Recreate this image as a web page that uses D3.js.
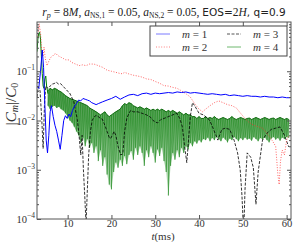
<!DOCTYPE html>
<html>
<head>
<meta charset="utf-8">
<script src="https://cdn.jsdelivr.net/npm/d3@7"></script>
<style>
  body { margin: 0; background: #fff; }
  svg { display: block; }
  text { font-family: "Liberation Serif", "DejaVu Serif", serif; }
</style>
</head>
<body>
<svg id="chart" width="293" height="242"></svg>
<script>
// m = 1 (blue solid)
let m1T = [3.0,3.4,3.8,4.2,4.5,4.8,5.1,5.4,5.7,6.0,6.3,6.7,7.1,7.5,7.9,8.3,8.7,9.1,9.5,9.9,10.3,10.7,11.1,11.5,12.0,12.5,13.0,13.5,14.0,14.5,15.0,15.5,16.0,16.5,17.0,18,19,20,21,22,23,24,25,26,27,28,29,30,31,32,33,34,35,36,37,38,39,40,41,42,43,44,45,46,47,48,49,50,51,52,53,54,55,56,57,58,59,60,60.8];
let m1V = [0.05,0.045,0.1,0.27,0.12,0.02,0.004,0.0022,0.005,0.015,0.02,0.012,0.008,0.006,0.004,0.0026,0.005,0.01,0.0125,0.011,0.0135,0.012,0.016,0.019,0.022,0.026,0.025,0.028,0.027,0.026,0.025,0.023,0.022,0.021,0.022,0.024,0.026,0.028,0.031,0.027,0.03,0.033,0.034,0.032,0.035,0.036,0.034,0.036,0.035,0.036,0.037,0.036,0.038,0.037,0.038,0.036,0.037,0.036,0.035,0.034,0.035,0.034,0.033,0.034,0.032,0.033,0.032,0.031,0.032,0.031,0.031,0.03,0.031,0.03,0.03,0.029,0.03,0.029,0.029];

// m = 2 (red dotted)
let m2T = [3.2,3.5,3.8,4.1,4.4,4.6,4.9,5.3,5.7,6.1,6.5,6.9,7.3,7.7,8.1,8.6,9.1,9.6,10.3,11,11.8,12.6,13.4,14.2,15,16,17,18,19,20,21,22,22.5,23,24,25,26,27,28,29,30,31,32,33,34,35,36,37,38,39,40,40.8,41.5,42.5,43.5,44.5,45.5,46.5,47.5,48.5,49.5,50.5,51.5,52.5,53.5,54.5,55.5,56.5,57.5,58,58.3,58.6,59,59.5,60,60.5];
let m2V = [0.5,0.92,0.6,0.25,0.2,0.31,0.18,0.13,0.16,0.19,0.2,0.22,0.23,0.21,0.2,0.19,0.18,0.17,0.17,0.15,0.14,0.13,0.135,0.13,0.14,0.14,0.13,0.12,0.105,0.1,0.095,0.09,0.089,0.095,0.088,0.083,0.08,0.076,0.07,0.068,0.062,0.057,0.051,0.05,0.047,0.045,0.04,0.035,0.03,0.022,0.017,0.015,0.017,0.02,0.023,0.025,0.023,0.021,0.02,0.018,0.014,0.011,0.009,0.008,0.0075,0.007,0.0055,0.0042,0.003,0.0008,0.0005,0.0015,0.0025,0.002,0.004,0.005];

// m = 3 (black dashed)
let m3T = [3.0,3.3,3.7,4.1,4.4,4.7,5.0,5.5,6.0,6.5,6.9,7.4,7.9,8.4,8.9,9.4,9.9,10.4,10.9,11.4,11.8,12.2,12.6,13.0,13.3,13.6,13.9,14.2,14.5,14.8,15.2,15.6,16.0,16.5,17.0,17.5,17.9,18.5,19.0,19.5,19.8,20.2,20.6,21.0,21.5,22.1,22.6,23.0,23.5,24.0,24.4,25,26,27,28,28.9,29.5,30.5,31.3,32,33,34,34.9,35.6,36.2,36.7,37.2,37.6,38,38.5,39,40,41,42.4,43.2,44.3,45.2,46,47,48,48.8,49.4,49.8,50.2,50.5,51,51.8,52.4,53,53.5,54.5,55.5,56.5,57.5,58.5,59.5,60.5];
let m3V = [0.03,0.048,0.04,0.01,0.0027,0.02,0.05,0.045,0.05,0.055,0.056,0.06,0.055,0.056,0.05,0.045,0.04,0.037,0.03,0.024,0.016,0.0105,0.005,0.002,0.005,0.001,0.0003,0.00008,0.0004,0.002,0.006,0.01,0.0117,0.0127,0.012,0.011,0.0107,0.008,0.006,0.0045,0.0043,0.005,0.006,0.005,0.003,0.002,0.0021,0.006,0.011,0.014,0.016,0.015,0.015,0.014,0.013,0.0117,0.01,0.0089,0.0105,0.011,0.012,0.013,0.014,0.011,0.0074,0.003,0.0014,0.004,0.012,0.023,0.02,0.014,0.013,0.0102,0.007,0.004,0.0066,0.007,0.0066,0.004,0.0022,0.001,0.0003,0.00005,0.0004,0.0022,0.0018,0.0011,0.0002,0.0009,0.004,0.0055,0.0066,0.007,0.0074,0.005,0.0029];

// m = 4 (green): early part as a line, later a fast oscillation band (upper / lower)
let m4T0 = [3.0,3.2,3.4,3.6,3.8,4.0,4.2,4.4,4.6,4.8,5.0,5.2,5.5];
let m4V0 = [0.25,0.45,0.6,0.62,0.45,0.2,0.09,0.05,0.045,0.07,0.08,0.05,0.035];
let m4T = [5.5,6,6.5,7,7.5,8,8.5,9,9.5,10,10.5,11,11.5,12,12.5,13,13.5,14,14.5,15,15.5,16,16.5,17,17.5,18,18.5,19,19.5,20,20.5,21,21.5,22,22.5,23,23.5,24,24.5,25,25.5,26,26.5,27,27.5,28,28.5,29,29.5,30,30.5,31,31.5,32,32.5,33,33.5,34,34.5,35,35.5,36,36.5,37,37.5,38,38.5,39,39.5,40,40.5,41,41.5,42,42.5,43,43.5,44,44.5,45,45.5,46,46.5,47,47.5,48,48.5,49,49.5,50,50.5,51,51.5,52,52.5,53,53.5,54,54.5,55,55.5,56,56.5,57,57.5,58,58.5,59,59.5,60,60.5];
let m4Hi = [0.04,0.045,0.042,0.045,0.043,0.04,0.038,0.035,0.032,0.03,0.028,0.027,0.026,0.025,0.024,0.023,0.022,0.021,0.02,0.018,0.017,0.016,0.015,0.014,0.013,0.014,0.015,0.013,0.012,0.013,0.014,0.015,0.016,0.017,0.02,0.022,0.021,0.023,0.022,0.02,0.019,0.018,0.019,0.018,0.017,0.018,0.017,0.016,0.017,0.016,0.017,0.016,0.017,0.016,0.015,0.016,0.015,0.016,0.015,0.014,0.015,0.014,0.013,0.014,0.013,0.013,0.012,0.012,0.011,0.012,0.011,0.011,0.012,0.011,0.0115,0.011,0.012,0.011,0.0105,0.011,0.0115,0.011,0.0105,0.011,0.012,0.011,0.0105,0.011,0.0115,0.011,0.0105,0.011,0.0112,0.0105,0.011,0.0115,0.011,0.0105,0.011,0.0115,0.011,0.0105,0.011,0.0112,0.0105,0.011,0.0115,0.011,0.0105,0.011,0.0105];
let m4Lo = [0.02,0.017,0.019,0.02,0.018,0.019,0.017,0.016,0.014,0.012,0.01,0.009,0.0075,0.006,0.005,0.0035,0.0045,0.003,0.0042,0.0028,0.0035,0.0022,0.003,0.0015,0.0025,0.0012,0.0018,0.0008,0.0005,0.0004,0.0009,0.0014,0.0011,0.0016,0.0012,0.0019,0.0013,0.002,0.0024,0.0016,0.0028,0.002,0.003,0.0022,0.0012,0.0025,0.0018,0.003,0.0022,0.0014,0.0026,0.0019,0.0028,0.0015,0.0009,0.0003,0.0012,0.0022,0.0016,0.0025,0.0018,0.0028,0.0022,0.003,0.0026,0.0035,0.003,0.0038,0.0034,0.004,0.0036,0.0042,0.004,0.0045,0.0038,0.0044,0.004,0.0046,0.0042,0.0038,0.0045,0.0041,0.0036,0.0043,0.004,0.0046,0.0042,0.0038,0.0044,0.004,0.0045,0.0041,0.0043,0.0039,0.0046,0.0042,0.0038,0.0044,0.0041,0.0045,0.004,0.0036,0.0043,0.0046,0.0041,0.0044,0.0039,0.0045,0.0042,0.0046,0.0044];

let xTicks = [10,20,30,40,50,60];
let yTicks = [1e-4,1e-3,1e-2,1e-1];
let yTickExp = ["\u22124","\u22123","\u22122","\u22121"];

let svg = d3.select('#chart');
let pL = 37, pT = 22, pR = 291, pB = 219;

let x = d3.scaleLinear().domain([3, 61]).range([pL, pR]);
let y = d3.scaleLog().domain([1e-4, 1]).range([pB, pT]);

let defs = svg.append('defs');
defs.append('clipPath').attr('id', 'clip')
  .append('rect').attr('x', pL).attr('y', pT)
  .attr('width', pR - pL).attr('height', pB - pT);

let grad = defs.append('linearGradient')
  .attr('id', 'gband').attr('x1', 0).attr('y1', 0).attr('x2', 0).attr('y2', 1);
grad.append('stop').attr('offset', '0%').attr('stop-color', '#127512');
grad.append('stop').attr('offset', '30%').attr('stop-color', '#2a8c2a');
grad.append('stop').attr('offset', '55%').attr('stop-color', '#6cb46c');
grad.append('stop').attr('offset', '100%').attr('stop-color', '#b8dfb8');

let plot = svg.append('g').attr('clip-path', 'url(#clip)');

let band = m4T.map((t, i) => ({t: t, hi: m4Hi[i], lo: m4Lo[i]}));
plot.append('path')
  .datum(band)
  .attr('fill', 'url(#gband)').attr('fill-opacity', 0.72)
  .attr('d', d3.area().x(d => x(d.t)).y0(d => y(d.lo)).y1(d => y(d.hi)));
// the oscillation itself: hi -> lo -> next hi
let zig = [];
band.forEach(d => { zig.push([d.t, d.hi]); zig.push([d.t, d.lo]); });
plot.append('path')
  .datum(zig)
  .attr('fill', 'none').attr('stroke', '#228b22').attr('stroke-width', 0.7)
  .attr('stroke-opacity', 0.8)
  .attr('d', d3.line().x(d => x(d[0])).y(d => y(d[1])));
plot.append('path')
  .datum(band)
  .attr('fill', 'none').attr('stroke', '#0d6a0d').attr('stroke-width', 1)
  .attr('d', d3.line().x(d => x(d.t)).y(d => y(d.hi)));
plot.append('path')
  .datum(m4T0.map((t, i) => [t, m4V0[i]]))
  .attr('fill', 'none').attr('stroke', '#008000').attr('stroke-width', 1)
  .attr('d', d3.line().x(d => x(d[0])).y(d => y(d[1])));

let line = d3.line().x(d => x(d[0])).y(d => y(d[1]));

plot.append('path')
  .datum(m3T.map((t, i) => [t, m3V[i]]))
  .attr('fill', 'none').attr('stroke', '#000').attr('stroke-width', 0.8)
  .attr('stroke-dasharray', '3,1.5')
  .attr('d', line);

plot.append('path')
  .datum(m2T.map((t, i) => [t, m2V[i]]))
  .attr('fill', 'none').attr('stroke', '#ff3030').attr('stroke-width', 1)
  .attr('stroke-opacity', 0.75)
  .attr('stroke-dasharray', '1,1.6')
  .attr('d', line);

plot.append('path')
  .datum(m1T.map((t, i) => [t, m1V[i]]))
  .attr('fill', 'none').attr('stroke', '#0000ff').attr('stroke-width', 1)
  .attr('d', line);

// axes: ticks point inward, on all four sides
let axCol = '#555';
function styleAxis(g) {
  g.select('.domain').remove();
  g.selectAll('.tick line').attr('stroke', axCol);
}
svg.append('g').attr('transform', 'translate(0,' + pB + ')')
  .call(d3.axisBottom(x).tickValues(xTicks).tickSize(-4).tickPadding(1).tickFormat(d3.format('d')))
  .call(styleAxis)
  .call(g => g.selectAll('.tick text').attr('font-size', 10.5).attr('fill', '#333')
    .attr('font-family', '"Liberation Serif", serif'));
svg.append('g').attr('transform', 'translate(0,' + pT + ')')
  .call(d3.axisTop(x).tickValues(xTicks).tickSize(-4).tickFormat(''))
  .call(styleAxis);

let minorY = [];
yTicks.forEach(v => { for (let k = 2; k <= 9; k++) minorY.push(v * k); });
[[pL, d3.axisLeft], [pR, d3.axisRight]].forEach(([px, ax]) => {
  svg.append('g').attr('transform', 'translate(' + px + ',0)')
    .call(ax(y).tickValues(yTicks).tickSize(-4).tickFormat(''))
    .call(styleAxis);
  svg.append('g').attr('transform', 'translate(' + px + ',0)')
    .call(ax(y).tickValues(minorY).tickSize(-2).tickFormat(''))
    .call(styleAxis);
});

// y tick labels 10^n
let ylab = svg.append('g').selectAll('text')
  .data(yTicks).enter().append('text')
  .attr('x', pL - 2).attr('y', d => y(d) + 4)
  .attr('text-anchor', 'end').attr('font-size', 10.5).attr('fill', '#333');
ylab.append('tspan').text('10');
ylab.append('tspan').attr('dy', -5).attr('font-size', 7.5).text((d, i) => yTickExp[i]);

// frame
svg.append('rect')
  .attr('x', pL).attr('y', pT)
  .attr('width', pR - pL).attr('height', pB - pT)
  .attr('fill', 'none').attr('stroke', axCol).attr('stroke-width', 1);

// axis labels
let yl = svg.append('text')
  .attr('transform', 'translate(16,104) rotate(-90)')
  .attr('text-anchor', 'middle').attr('font-size', 15).attr('fill', '#333');
yl.append('tspan').text('|');
yl.append('tspan').attr('font-style', 'italic').text('C');
yl.append('tspan').attr('font-style', 'italic').attr('font-size', 10).attr('dy', 2).text('m');
yl.append('tspan').attr('dy', -2).text('|/');
yl.append('tspan').attr('font-style', 'italic').text('C');
yl.append('tspan').attr('font-size', 10).attr('dy', 2).text('0');

let xl = svg.append('text')
  .attr('x', 163).attr('y', 239.5)
  .attr('text-anchor', 'middle').attr('font-size', 11).attr('fill', '#333');
xl.append('tspan').attr('font-style', 'italic').text('t');
xl.append('tspan').text('(ms)');

// title
let title = svg.append('text').attr('x', 164).attr('y', 16)
  .attr('text-anchor', 'middle').attr('font-size', 11.5).attr('fill', '#222');
title.append('tspan').attr('font-style', 'italic').text('r');
title.append('tspan').attr('font-style', 'italic').attr('font-size', 8).attr('dy', 2).text('p');
title.append('tspan').attr('dy', -2).text(' = 8');
title.append('tspan').attr('font-style', 'italic').text('M');
title.append('tspan').text(', ');
title.append('tspan').attr('font-style', 'italic').text('a');
title.append('tspan').attr('font-size', 7.5).attr('dy', 2).text('NS,1');
title.append('tspan').attr('dy', -2).text(' = 0.05, ');
title.append('tspan').attr('font-style', 'italic').text('a');
title.append('tspan').attr('font-size', 7.5).attr('dy', 2).text('NS,2');
title.append('tspan').attr('dy', -2).text(' = 0.05, ');
title.append('tspan').attr('font-family', 'DejaVu Sans').attr('font-size', 10.5).text('EOS=');
title.append('tspan').text('2');
title.append('tspan').attr('font-style', 'italic').text('H');
title.append('tspan').attr('font-family', 'DejaVu Sans').attr('font-size', 10.5).text(', q=0.9');

// legend
let legItems = [
  {label: '1', color: '#7b7bff', dash: null, col: 0, row: 0},
  {label: '2', color: '#ff8080', dash: '1,1.6', col: 0, row: 1},
  {label: '3', color: '#555', dash: '3,1.5', col: 1, row: 0},
  {label: '4', color: '#6fb86f', dash: null, col: 1, row: 1}
];
let lg = svg.append('g');
lg.append('rect').attr('x', 150).attr('y', 26).attr('width', 137).attr('height', 30)
  .attr('fill', '#fff').attr('stroke', '#444').attr('stroke-width', 1);
legItems.forEach(d => {
  let lx = 156 + d.col * 71, ly = 34 + d.row * 13;
  lg.append('line').attr('x1', lx).attr('x2', lx + 14).attr('y1', ly).attr('y2', ly)
    .attr('stroke', d.color).attr('stroke-width', 1).attr('stroke-dasharray', d.dash);
  let t = lg.append('text').attr('x', lx + 26).attr('y', ly + 4).attr('font-size', 11).attr('fill', '#333');
  t.append('tspan').attr('font-style', 'italic').text('m');
  t.append('tspan').text(' = ' + d.label);
});
</script>
</body>
</html>
